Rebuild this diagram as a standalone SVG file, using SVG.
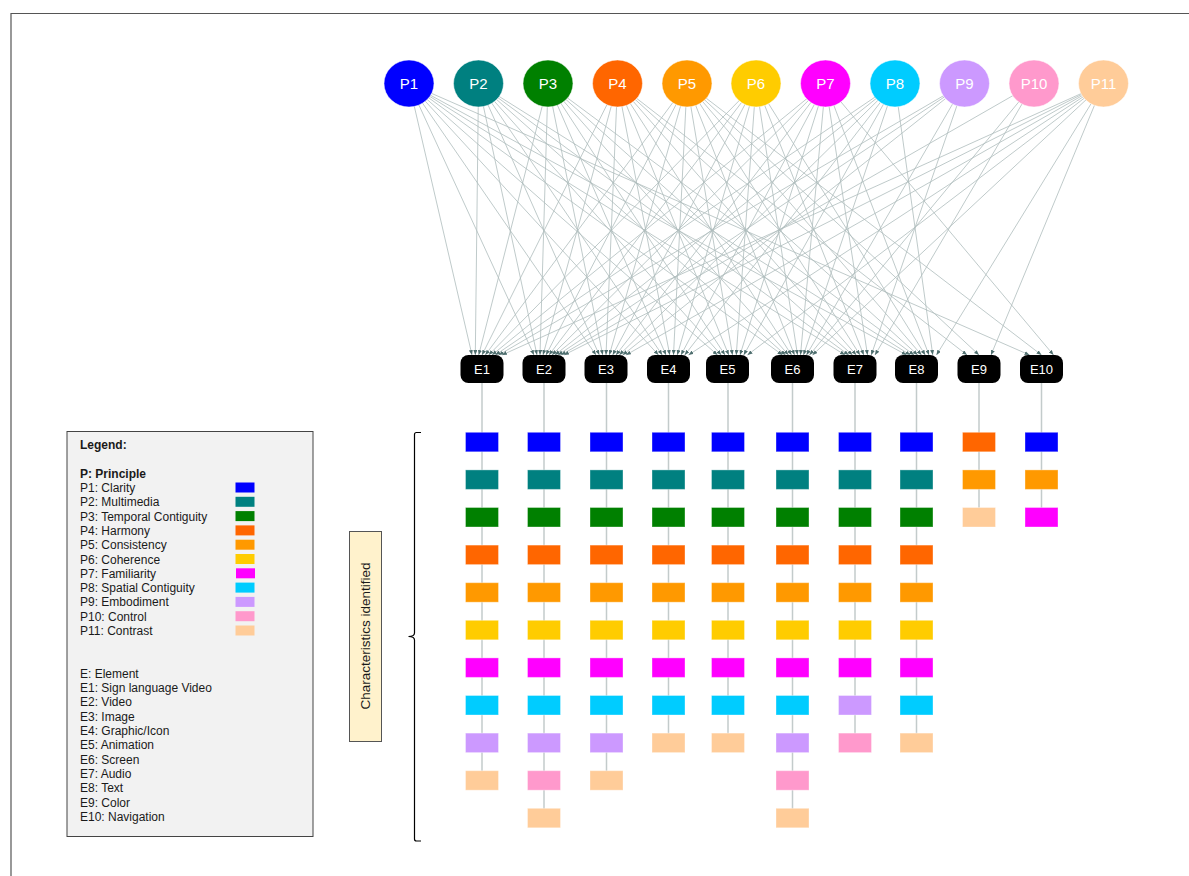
<svg xmlns="http://www.w3.org/2000/svg" width="1189" height="876" viewBox="0 0 1189 876">
<defs>
<style>
text{font-family:"Liberation Sans",Arial,sans-serif}
.c1{fill:#0000ff}.c2{fill:#008080}.c3{fill:#008000}.c4{fill:#ff6600}.c5{fill:#ff9900}.c6{fill:#ffcc00}.c7{fill:#ff00ff}.c8{fill:#00ccff}.c9{fill:#cc99ff}.c10{fill:#ff99cc}.c11{fill:#ffcc99}
.pn text{fill:#fff;font-size:15px;text-anchor:middle}
.pn ellipse{stroke:#fff;stroke-opacity:.5;stroke-width:1}
.en rect{fill:#000}
.en text{fill:#fff;font-size:13px;text-anchor:middle}
.edges path{stroke:#aebdbd;stroke-width:.8;fill:none;marker-end:url(#ah)}
.stem{stroke:#c3cbcb;stroke-width:1.5;fill:none}
.ch rect{stroke:#fff;stroke-opacity:.35;stroke-width:1}
.lg text{font-size:12px;fill:#1a1a1a}
.lg .b{font-weight:bold}
</style>
<marker id="ah" markerUnits="userSpaceOnUse" markerWidth="5" markerHeight="4" refX="5" refY="2" orient="auto"><path d="M0,0L5,2L0,4z" fill="#4e6e6e"/></marker>
</defs>
<rect width="1189" height="876" fill="#fff"/>
<path d="M11 876V13.5H1189" fill="none" stroke="#555" stroke-width="1.2"/>

<g class="edges" id="connectors">
<path d="M409 83.5L472 355"/><path d="M409 83.5L534 355"/><path d="M409 83.5L596 355"/><path d="M409 83.5L658.5 355"/><path d="M409 83.5L717.5 355"/><path d="M409 83.5L782.5 355"/><path d="M409 83.5L845 355"/><path d="M409 83.5L906.5 355"/><path d="M409 83.5L1029.5 355"/>
<path d="M478.5 83.5L475.3 355"/><path d="M478.5 83.5L537 355"/><path d="M478.5 83.5L599.3 355"/><path d="M478.5 83.5L662.25 355"/><path d="M478.5 83.5L721.25 355"/><path d="M478.5 83.5L785.5 355"/><path d="M478.5 83.5L848.75 355"/><path d="M478.5 83.5L910.25 355"/>
<path d="M548 83.5L478.7 355"/><path d="M548 83.5L540 355"/><path d="M548 83.5L602.7 355"/><path d="M548 83.5L666 355"/><path d="M548 83.5L725 355"/><path d="M548 83.5L788.5 355"/><path d="M548 83.5L852.5 355"/><path d="M548 83.5L914 355"/>
<path d="M617.5 83.5L482 355"/><path d="M617.5 83.5L543 355"/><path d="M617.5 83.5L606 355"/><path d="M617.5 83.5L669.75 355"/><path d="M617.5 83.5L728.75 355"/><path d="M617.5 83.5L791.5 355"/><path d="M617.5 83.5L856.25 355"/><path d="M617.5 83.5L917.75 355"/><path d="M617.5 83.5L967 355"/>
<path d="M687 83.5L485.3 355"/><path d="M687 83.5L546 355"/><path d="M687 83.5L609.3 355"/><path d="M687 83.5L673.5 355"/><path d="M687 83.5L732.5 355"/><path d="M687 83.5L794.5 355"/><path d="M687 83.5L860 355"/><path d="M687 83.5L921.5 355"/><path d="M687 83.5L979 355"/><path d="M687 83.5L1041.5 355"/>
<path d="M756 83.5L488.7 355"/><path d="M756 83.5L549 355"/><path d="M756 83.5L612.7 355"/><path d="M756 83.5L677.25 355"/><path d="M756 83.5L736.25 355"/><path d="M756 83.5L797.5 355"/><path d="M756 83.5L863.75 355"/><path d="M756 83.5L925.25 355"/>
<path d="M825.5 83.5L492 355"/><path d="M825.5 83.5L552 355"/><path d="M825.5 83.5L616 355"/><path d="M825.5 83.5L681 355"/><path d="M825.5 83.5L740 355"/><path d="M825.5 83.5L800.5 355"/><path d="M825.5 83.5L867.5 355"/><path d="M825.5 83.5L929 355"/><path d="M825.5 83.5L1053.5 355"/>
<path d="M895 83.5L495.3 355"/><path d="M895 83.5L555 355"/><path d="M895 83.5L619.3 355"/><path d="M895 83.5L684.75 355"/><path d="M895 83.5L743.75 355"/><path d="M895 83.5L803.5 355"/><path d="M895 83.5L932.75 355"/>
<path d="M964.5 83.5L498.7 355"/><path d="M964.5 83.5L558 355"/><path d="M964.5 83.5L622.7 355"/><path d="M964.5 83.5L806.5 355"/><path d="M964.5 83.5L871.25 355"/>
<path d="M1034 83.5L561 355"/><path d="M1034 83.5L809.5 355"/><path d="M1034 83.5L875 355"/>
<path d="M1103.5 83.5L502 355"/><path d="M1103.5 83.5L564 355"/><path d="M1103.5 83.5L626 355"/><path d="M1103.5 83.5L688.5 355"/><path d="M1103.5 83.5L747.5 355"/><path d="M1103.5 83.5L812.5 355"/><path d="M1103.5 83.5L936.5 355"/><path d="M1103.5 83.5L991 355"/>
</g>
<g id="stems">
<path class="stem" d="M482 383V780.5"/>
<path class="stem" d="M544 383V818"/>
<path class="stem" d="M606.5 383V780.5"/>
<path class="stem" d="M668.5 383V743"/>
<path class="stem" d="M728 383V743"/>
<path class="stem" d="M792.5 383V818"/>
<path class="stem" d="M855 383V743"/>
<path class="stem" d="M916.5 383V743"/>
<path class="stem" d="M979 383V517"/>
<path class="stem" d="M1041.5 383V517"/>
</g>

<g id="P1" class="pn"><ellipse class="c1" cx="409" cy="83.5" rx="25" ry="23.5"/><text x="409" y="89">P1</text></g>
<g id="P2" class="pn"><ellipse class="c2" cx="478.5" cy="83.5" rx="25" ry="23.5"/><text x="478.5" y="89">P2</text></g>
<g id="P3" class="pn"><ellipse class="c3" cx="548" cy="83.5" rx="25" ry="23.5"/><text x="548" y="89">P3</text></g>
<g id="P4" class="pn"><ellipse class="c4" cx="617.5" cy="83.5" rx="25" ry="23.5"/><text x="617.5" y="89">P4</text></g>
<g id="P5" class="pn"><ellipse class="c5" cx="687" cy="83.5" rx="25" ry="23.5"/><text x="687" y="89">P5</text></g>
<g id="P6" class="pn"><ellipse class="c6" cx="756" cy="83.5" rx="25" ry="23.5"/><text x="756" y="89">P6</text></g>
<g id="P7" class="pn"><ellipse class="c7" cx="825.5" cy="83.5" rx="25" ry="23.5"/><text x="825.5" y="89">P7</text></g>
<g id="P8" class="pn"><ellipse class="c8" cx="895" cy="83.5" rx="25" ry="23.5"/><text x="895" y="89">P8</text></g>
<g id="P9" class="pn"><ellipse class="c9" cx="964.5" cy="83.5" rx="25" ry="23.5"/><text x="964.5" y="89">P9</text></g>
<g id="P10" class="pn"><ellipse class="c10" cx="1034" cy="83.5" rx="25" ry="23.5"/><text x="1034" y="89">P10</text></g>
<g id="P11" class="pn"><ellipse class="c11" cx="1103.5" cy="83.5" rx="25" ry="23.5"/><text x="1103.5" y="89">P11</text></g>

<g id="E1" class="en"><rect x="460.5" y="355" width="43" height="28" rx="8"/><text x="482" y="373.5">E1</text></g>
<g id="E2" class="en"><rect x="522.5" y="355" width="43" height="28" rx="8"/><text x="544" y="373.5">E2</text></g>
<g id="E3" class="en"><rect x="584.5" y="355" width="43" height="28" rx="8"/><text x="606" y="373.5">E3</text></g>
<g id="E4" class="en"><rect x="647" y="355" width="43" height="28" rx="8"/><text x="668.5" y="373.5">E4</text></g>
<g id="E5" class="en"><rect x="706" y="355" width="43" height="28" rx="8"/><text x="727.5" y="373.5">E5</text></g>
<g id="E6" class="en"><rect x="771" y="355" width="43" height="28" rx="8"/><text x="792.5" y="373.5">E6</text></g>
<g id="E7" class="en"><rect x="833.5" y="355" width="43" height="28" rx="8"/><text x="855" y="373.5">E7</text></g>
<g id="E8" class="en"><rect x="895" y="355" width="43" height="28" rx="8"/><text x="916.5" y="373.5">E8</text></g>
<g id="E9" class="en"><rect x="957.5" y="355" width="43" height="28" rx="8"/><text x="979" y="373.5">E9</text></g>
<g id="E10" class="en"><rect x="1020" y="355" width="43" height="28" rx="8"/><text x="1041.5" y="373.5">E10</text></g>

<g id="chars-E1" class="ch">
<rect class="c1" x="465.5" y="432.3" width="33" height="19.5"/><rect class="c2" x="465.5" y="469.9" width="33" height="19.5"/><rect class="c3" x="465.5" y="507.5" width="33" height="19.5"/><rect class="c4" x="465.5" y="545.1" width="33" height="19.5"/><rect class="c5" x="465.5" y="582.7" width="33" height="19.5"/><rect class="c6" x="465.5" y="620.3" width="33" height="19.5"/><rect class="c7" x="465.5" y="657.9" width="33" height="19.5"/><rect class="c8" x="465.5" y="695.5" width="33" height="19.5"/><rect class="c9" x="465.5" y="733.1" width="33" height="19.5"/><rect class="c11" x="465.5" y="770.7" width="33" height="19.5"/>
</g>
<g id="chars-E2" class="ch">
<rect class="c1" x="527.5" y="432.3" width="33" height="19.5"/><rect class="c2" x="527.5" y="469.9" width="33" height="19.5"/><rect class="c3" x="527.5" y="507.5" width="33" height="19.5"/><rect class="c4" x="527.5" y="545.1" width="33" height="19.5"/><rect class="c5" x="527.5" y="582.7" width="33" height="19.5"/><rect class="c6" x="527.5" y="620.3" width="33" height="19.5"/><rect class="c7" x="527.5" y="657.9" width="33" height="19.5"/><rect class="c8" x="527.5" y="695.5" width="33" height="19.5"/><rect class="c9" x="527.5" y="733.1" width="33" height="19.5"/><rect class="c10" x="527.5" y="770.7" width="33" height="19.5"/><rect class="c11" x="527.5" y="808.3" width="33" height="19.5"/>
</g>
<g id="chars-E3" class="ch">
<rect class="c1" x="590" y="432.3" width="33" height="19.5"/><rect class="c2" x="590" y="469.9" width="33" height="19.5"/><rect class="c3" x="590" y="507.5" width="33" height="19.5"/><rect class="c4" x="590" y="545.1" width="33" height="19.5"/><rect class="c5" x="590" y="582.7" width="33" height="19.5"/><rect class="c6" x="590" y="620.3" width="33" height="19.5"/><rect class="c7" x="590" y="657.9" width="33" height="19.5"/><rect class="c8" x="590" y="695.5" width="33" height="19.5"/><rect class="c9" x="590" y="733.1" width="33" height="19.5"/><rect class="c11" x="590" y="770.7" width="33" height="19.5"/>
</g>
<g id="chars-E4" class="ch">
<rect class="c1" x="652" y="432.3" width="33" height="19.5"/><rect class="c2" x="652" y="469.9" width="33" height="19.5"/><rect class="c3" x="652" y="507.5" width="33" height="19.5"/><rect class="c4" x="652" y="545.1" width="33" height="19.5"/><rect class="c5" x="652" y="582.7" width="33" height="19.5"/><rect class="c6" x="652" y="620.3" width="33" height="19.5"/><rect class="c7" x="652" y="657.9" width="33" height="19.5"/><rect class="c8" x="652" y="695.5" width="33" height="19.5"/><rect class="c11" x="652" y="733.1" width="33" height="19.5"/>
</g>
<g id="chars-E5" class="ch">
<rect class="c1" x="711.5" y="432.3" width="33" height="19.5"/><rect class="c2" x="711.5" y="469.9" width="33" height="19.5"/><rect class="c3" x="711.5" y="507.5" width="33" height="19.5"/><rect class="c4" x="711.5" y="545.1" width="33" height="19.5"/><rect class="c5" x="711.5" y="582.7" width="33" height="19.5"/><rect class="c6" x="711.5" y="620.3" width="33" height="19.5"/><rect class="c7" x="711.5" y="657.9" width="33" height="19.5"/><rect class="c8" x="711.5" y="695.5" width="33" height="19.5"/><rect class="c11" x="711.5" y="733.1" width="33" height="19.5"/>
</g>
<g id="chars-E6" class="ch">
<rect class="c1" x="776" y="432.3" width="33" height="19.5"/><rect class="c2" x="776" y="469.9" width="33" height="19.5"/><rect class="c3" x="776" y="507.5" width="33" height="19.5"/><rect class="c4" x="776" y="545.1" width="33" height="19.5"/><rect class="c5" x="776" y="582.7" width="33" height="19.5"/><rect class="c6" x="776" y="620.3" width="33" height="19.5"/><rect class="c7" x="776" y="657.9" width="33" height="19.5"/><rect class="c8" x="776" y="695.5" width="33" height="19.5"/><rect class="c9" x="776" y="733.1" width="33" height="19.5"/><rect class="c10" x="776" y="770.7" width="33" height="19.5"/><rect class="c11" x="776" y="808.3" width="33" height="19.5"/>
</g>
<g id="chars-E7" class="ch">
<rect class="c1" x="838.5" y="432.3" width="33" height="19.5"/><rect class="c2" x="838.5" y="469.9" width="33" height="19.5"/><rect class="c3" x="838.5" y="507.5" width="33" height="19.5"/><rect class="c4" x="838.5" y="545.1" width="33" height="19.5"/><rect class="c5" x="838.5" y="582.7" width="33" height="19.5"/><rect class="c6" x="838.5" y="620.3" width="33" height="19.5"/><rect class="c7" x="838.5" y="657.9" width="33" height="19.5"/><rect class="c9" x="838.5" y="695.5" width="33" height="19.5"/><rect class="c10" x="838.5" y="733.1" width="33" height="19.5"/>
</g>
<g id="chars-E8" class="ch">
<rect class="c1" x="900" y="432.3" width="33" height="19.5"/><rect class="c2" x="900" y="469.9" width="33" height="19.5"/><rect class="c3" x="900" y="507.5" width="33" height="19.5"/><rect class="c4" x="900" y="545.1" width="33" height="19.5"/><rect class="c5" x="900" y="582.7" width="33" height="19.5"/><rect class="c6" x="900" y="620.3" width="33" height="19.5"/><rect class="c7" x="900" y="657.9" width="33" height="19.5"/><rect class="c8" x="900" y="695.5" width="33" height="19.5"/><rect class="c11" x="900" y="733.1" width="33" height="19.5"/>
</g>
<g id="chars-E9" class="ch">
<rect class="c4" x="962.5" y="432.3" width="33" height="19.5"/><rect class="c5" x="962.5" y="469.9" width="33" height="19.5"/><rect class="c11" x="962.5" y="507.5" width="33" height="19.5"/>
</g>
<g id="chars-E10" class="ch">
<rect class="c1" x="1025" y="432.3" width="33" height="19.5"/><rect class="c5" x="1025" y="469.9" width="33" height="19.5"/><rect class="c7" x="1025" y="507.5" width="33" height="19.5"/>
</g>

<g id="bracket">
<path d="M421 432.5H416.5Q414.5 432.5 414.5 434.5V633Q414.5 636.5 408.5 636.5Q414.5 636.5 414.5 640V839Q414.5 841 416.5 841H421" fill="none" stroke="#000" stroke-width="1.2"/>
</g>
<g id="characteristics-label">
<rect x="349.5" y="531.5" width="32" height="210" fill="#fff2cc" stroke="#555" stroke-width="1"/>
<text transform="translate(370 636) rotate(-90)" text-anchor="middle" font-size="13.5" fill="#1a1a1a">Characteristics identified</text>
</g>

<g id="legend" class="lg">
<rect x="67" y="431.5" width="246" height="405" fill="#f2f2f2" stroke="#444" stroke-width="1"/>
<text class="b" x="80" y="449">Legend:</text>
<text class="b" x="80" y="477.5">P: Principle</text>
<text x="80" y="492">P1: Clarity</text>
<text x="80" y="506.3">P2: Multimedia</text>
<text x="80" y="520.6">P3: Temporal Contiguity</text>
<text x="80" y="534.9">P4: Harmony</text>
<text x="80" y="549.2">P5: Consistency</text>
<text x="80" y="563.5">P6: Coherence</text>
<text x="80" y="577.8">P7: Familiarity</text>
<text x="80" y="592.1">P8: Spatial Contiguity</text>
<text x="80" y="606.4">P9: Embodiment</text>
<text x="80" y="620.7">P10: Control</text>
<text x="80" y="635">P11: Contrast</text>
<rect class="c1" x="235.5" y="482.5" width="19" height="10"/>
<rect class="c2" x="235.5" y="496.8" width="19" height="10"/>
<rect class="c3" x="235.5" y="511.1" width="19" height="10"/>
<rect class="c4" x="235.5" y="525.4" width="19" height="10"/>
<rect class="c5" x="235.5" y="539.7" width="19" height="10"/>
<rect class="c6" x="235.5" y="554" width="19" height="10"/>
<rect class="c7" x="236" y="568.3" width="19" height="10"/>
<rect class="c8" x="235.5" y="582.6" width="19" height="10"/>
<rect class="c9" x="235.5" y="596.9" width="19" height="10"/>
<rect class="c10" x="235.5" y="611.2" width="19" height="10"/>
<rect class="c11" x="235.5" y="625.5" width="19" height="10"/>
<text x="80" y="677.5">E: Element</text>
<text x="80" y="691.8">E1: Sign language Video</text>
<text x="80" y="706.2">E2: Video</text>
<text x="80" y="720.5">E3: Image</text>
<text x="80" y="734.9">E4: Graphic/Icon</text>
<text x="80" y="749.2">E5: Animation</text>
<text x="80" y="763.5">E6: Screen</text>
<text x="80" y="777.9">E7: Audio</text>
<text x="80" y="792.2">E8: Text</text>
<text x="80" y="806.6">E9: Color</text>
<text x="80" y="820.9">E10: Navigation</text>
</g>
</svg>
